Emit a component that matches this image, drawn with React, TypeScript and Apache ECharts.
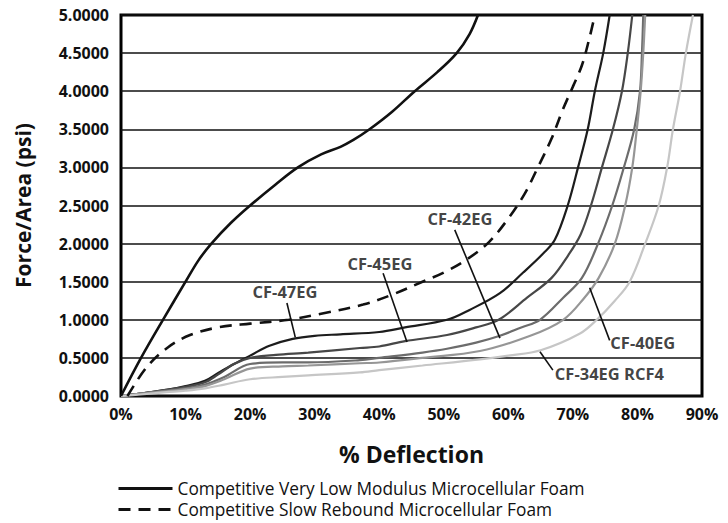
import React, { useEffect, useRef } from "react";
import * as echarts from "echarts";

// % deflection vs force/area (psi)
const veryLowModulus: [number, number][] = [
  [0, 0], [3.1, 0.5], [6.5, 1.0], [10, 1.5], [12, 1.78], [14, 2.0], [17, 2.27], [20, 2.5],
  [24, 2.78], [27.4, 3.0], [31, 3.17], [34, 3.27], [36, 3.36], [38.5, 3.5], [42, 3.73],
  [45.5, 4.0], [49, 4.25], [52, 4.5], [54, 4.75], [55.3, 5.0],
];
const slowRebound: [number, number][] = [
  [1, 0], [4, 0.38], [7.3, 0.64], [10.7, 0.8], [15, 0.9], [20, 0.95], [26, 1.0], [31, 1.08],
  [37.5, 1.2], [42, 1.33], [46.7, 1.5], [50, 1.62], [53.7, 1.8], [57, 2.02], [60, 2.33],
  [62.5, 2.65], [64.4, 2.97], [66.7, 3.38], [68.4, 3.75], [70, 4.06], [71.4, 4.34],
  [72.6, 4.71], [73.4, 5.0],
];
const cf47: [number, number][] = [
  [0, 0], [3, 0.03], [7, 0.08], [10, 0.13], [13, 0.2], [15, 0.3], [17.5, 0.42], [20, 0.53],
  [23, 0.66], [26.6, 0.75], [30, 0.79], [34, 0.81], [40, 0.84], [44, 0.9], [50.5, 1.0],
  [54, 1.13], [58.7, 1.35], [62.3, 1.62], [65.4, 1.87], [67.2, 2.05], [69.2, 2.5],
  [70.8, 3.0], [72.3, 3.5], [73.4, 4.0], [74.7, 4.5], [75.7, 5.0],
];
const cf45: [number, number][] = [
  [0, 0], [3, 0.03], [7, 0.08], [10, 0.12], [13, 0.18], [15, 0.28], [17.5, 0.42], [20, 0.5],
  [24, 0.54], [29, 0.57], [37, 0.63], [40, 0.65], [44, 0.72], [50.5, 0.8], [55, 0.9],
  [58.5, 1.0], [62.9, 1.29], [66.7, 1.55], [69.3, 1.85], [71.2, 2.12], [72.8, 2.5],
  [74.5, 3.0], [76.2, 3.5], [77.6, 4.0], [78.5, 4.5], [79.2, 5.0],
];
const cf42: [number, number][] = [
  [0, 0], [3, 0.03], [7, 0.07], [10, 0.1], [13, 0.15], [16, 0.25], [20, 0.42], [25, 0.44],
  [29, 0.44], [37, 0.47], [40, 0.5], [46.7, 0.57], [50.5, 0.62], [55, 0.7], [58.7, 0.79],
  [62, 0.9], [64.9, 1.0], [68.5, 1.29], [71.4, 1.55], [73.9, 2.0], [76.1, 2.5], [77.9, 3.0],
  [79.5, 3.5], [80.4, 4.0], [80.7, 4.5], [80.9, 5.0],
];
const cf40: [number, number][] = [
  [0, 0], [3, 0.03], [7, 0.06], [10, 0.09], [13, 0.13], [16, 0.22], [20, 0.36], [25, 0.39],
  [29, 0.4], [37, 0.43], [40, 0.44], [46.7, 0.5], [55.6, 0.59], [63.4, 0.79], [68.5, 1.0],
  [71.6, 1.27], [74, 1.55], [76.5, 2.0], [78.1, 2.5], [79.2, 3.0], [79.9, 3.5], [80.5, 4.0],
  [80.9, 4.5], [81.2, 5.0],
];
const cf34: [number, number][] = [
  [0, 0], [3, 0.02], [7, 0.05], [10, 0.07], [13, 0.1], [16, 0.15], [20, 0.22], [25, 0.25],
  [29, 0.27], [37, 0.31], [40, 0.34], [46.7, 0.4], [55.6, 0.48], [60, 0.53], [65, 0.6],
  [71.1, 0.82], [73.7, 1.0], [76.5, 1.25], [78.8, 1.5], [81.2, 2.0], [83.3, 2.5],
  [84.6, 3.0], [85.5, 3.5], [86.6, 4.0], [87.5, 4.5], [88.6, 5.0],
];

const seriesNames = [
  "Competitive Very Low Modulus Microcellular Foam",
  "Competitive Slow Rebound Microcellular Foam",
  "CF-47EG", "CF-45EG", "CF-42EG", "CF-40EG", "CF-34EG RCF4",
];

// annotation labels (data coordinates)
const annotationNames = ["CF-47EG", "CF-45EG", "CF-42EG", "CF-40EG", "CF-34EG RCF4"];
const annotationText: [number, number][] = [[25.4, 1.37], [40.1, 1.74], [52.5, 2.33], [75.8, 0.70], [67.2, 0.30]];
const annotationAlign = ["center", "center", "center", "left", "left"];
const pointerStart: [number, number][] = [[25.7, 1.22], [40.6, 1.61], [51.7, 2.18], [72.6, 1.42], [64.9, 0.58]];
const pointerEnd: [number, number][] = [[27.0, 0.77], [44.3, 0.71], [58.7, 0.76], [75.7, 0.73], [66.9, 0.34]];

const xTicks = { min: 0, max: 90, interval: 10 };
const yTicks = { min: 0, max: 5, interval: 0.5 };

export default function App() {
  const ref = useRef<HTMLDivElement>(null);
  useEffect(() => {
    if (!ref.current) return;
    const chart = echarts.init(ref.current, undefined, { renderer: "svg" });
    const font = "'Open Sans', 'Noto Sans', sans-serif";
    const line = (name: string, data: [number, number][], color: string, width: number, type: any, z: number) => ({
      name,
      type: "line",
      data,
      smooth: 0.35,
      symbol: "none",
      showSymbol: false,
      z,
      lineStyle: { color, width, type },
      itemStyle: { color },
    });
    const curves = [veryLowModulus, slowRebound, cf47, cf45, cf42, cf40, cf34];
    const colors = ["#111111", "#111111", "#1c1c1c", "#474747", "#6c6c6c", "#969696", "#c6c6c6"];
    const series: any[] = curves.map((d, i) =>
      line(seriesNames[i], d, colors[i], i < 2 ? 2.6 : 2.2, i === 1 ? [12, 8] : "solid", i < 2 ? 4 : 3)
    );
    series.push({
      name: "annotations",
      type: "scatter",
      symbolSize: 0,
      z: 6,
      data: annotationNames.map((n, i) => ({
        name: n,
        value: annotationText[i],
        label: {
          show: true,
          position: "inside",
          formatter: n,
          align: annotationAlign[i],
          verticalAlign: "middle",
          fontFamily: font,
          fontWeight: "bold",
          fontSize: 16.5,
          color: "#111",
        },
      })),
      markLine: {
        silent: true,
        symbol: ["none", "none"],
        label: { show: false },
        lineStyle: { color: "#111", width: 1.6, type: "solid" },
        data: pointerStart.map((s, i) => [{ coord: s }, { coord: pointerEnd[i] }]),
      },
    });
    chart.setOption({
      animation: false,
      backgroundColor: "#ffffff",
      grid: {
        left: 121, right: 26, top: 15, bottom: 127,
        show: true, borderColor: "#000", borderWidth: 3,
      },
      legend: {
        data: seriesNames.slice(0, 2),
        orient: "vertical",
        left: 112,
        top: 475,
        itemWidth: 54,
        itemHeight: 12,
        itemGap: 4,
        itemStyle: { opacity: 0 },
        lineStyle: { width: 3 },
        textStyle: { fontFamily: font, fontSize: 17.3, color: "#111" },
      },
      xAxis: {
        type: "value",
        ...xTicks,
        name: "% Deflection",
        nameLocation: "middle",
        nameGap: 46,
        nameTextStyle: { fontFamily: font, fontSize: 23, fontWeight: "bold", color: "#111" },
        axisLine: { show: false },
        axisTick: { show: false },
        splitLine: { show: false },
        axisLabel: {
          formatter: (v: number) => `${v}%`,
          fontFamily: font, fontSize: 16, fontWeight: "bold", color: "#111", margin: 10,
        },
      },
      yAxis: {
        type: "value",
        ...yTicks,
        name: "Force/Area (psi)",
        nameLocation: "middle",
        nameGap: 88,
        nameTextStyle: { fontFamily: font, fontSize: 21, fontWeight: "bold", color: "#111" },
        axisLine: { show: false },
        axisTick: { show: false },
        splitLine: { show: true, lineStyle: { color: "#111", width: 1.5 } },
        axisLabel: {
          formatter: (v: number) => v.toFixed(4),
          fontFamily: font, fontSize: 16, fontWeight: "bold", color: "#111", margin: 12,
        },
      },
      series,
    });
    return () => chart.dispose();
  }, []);
  return (
    <div
      ref={ref}
      style={{ position: "fixed", left: 0, top: 0, width: 728, height: 523, background: "#fff" }}
    />
  );
}
